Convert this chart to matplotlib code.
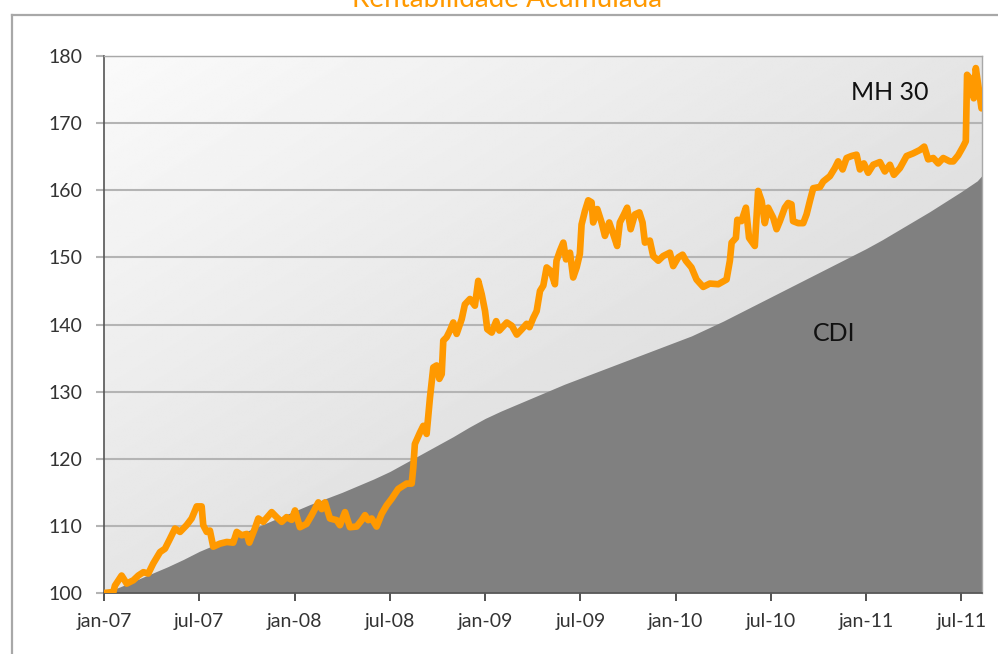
import numpy as np
import matplotlib
matplotlib.use("Agg")
import matplotlib.pyplot as plt
from matplotlib.lines import Line2D

plt.rcParams['font.family'] = ['Lato', 'DejaVu Sans']

# x axis: months since jan-07
tick_months = [0, 6, 12, 18, 24, 30, 36, 42, 48, 54]
tick_labels = ['jan-07', 'jul-07', 'jan-08', 'jul-08', 'jan-09',
               'jul-09', 'jan-10', 'jul-10', 'jan-11', 'jul-11']
y_ticks = [100, 110, 120, 130, 140, 150, 160, 170, 180]

# CDI accumulated (monthly)
cdi_months = list(range(56)) + [55.3]
cdi_values = [100.0, 100.9, 101.9, 102.9, 103.9, 105.0, 106.2, 107.2, 108.2, 109.2,
              110.2, 111.2, 112.2, 113.2, 114.1, 115.0, 116.0, 117.0, 118.1, 119.4,
              120.7, 122.0, 123.3, 124.7, 126.0, 127.1, 128.1, 129.1, 130.1, 131.1,
              132.0, 132.9, 133.8, 134.7, 135.6, 136.5, 137.4, 138.3, 139.4, 140.5,
              141.7, 142.9, 144.1, 145.3, 146.5, 147.7, 148.9, 150.1, 151.3, 152.6,
              154.0, 155.4, 156.8, 158.3, 159.8, 161.4, 162.2]

# MH 30 accumulated return
mh_months = [0, 0.59, 0.69, 1.11, 1.43, 1.85, 2.16, 2.48, 2.79, 3.10,
             3.53, 3.84, 4.16, 4.47, 4.79, 5.20, 5.52, 5.84, 6.15, 6.25,
             6.47, 6.67, 6.88, 7.30, 7.73, 8.14, 8.36, 8.67, 8.99, 9.15,
             9.50, 9.72, 10.03, 10.56, 10.87, 11.19, 11.50, 11.82, 12.03, 12.34,
             12.76, 13.08, 13.50, 13.71, 13.92, 14.23, 14.65, 14.86, 15.18, 15.49,
             15.91, 16.23, 16.44, 16.64, 16.86, 17.17, 17.49, 17.80, 18.12, 18.53,
             19.06, 19.38,
             19.48, 19.58, 19.90, 20.11, 20.32, 20.53, 20.74, 20.95, 21.12, 21.27,
             21.37, 21.58, 21.79, 22.00, 22.21, 22.53, 22.73, 23.05, 23.36, 23.57,
             23.79, 24.00, 24.14, 24.42, 24.70, 24.90, 25.37, 25.69, 26.00, 26.32,
             26.62, 26.80, 27.04, 27.25, 27.46, 27.67, 27.88, 28.13, 28.40, 28.50,
             28.72, 28.93, 29.10, 29.35, 29.55, 29.77, 29.97, 30.08, 30.29, 30.50,
             30.71, 30.81, 31.07, 31.34, 31.55, 31.82, 32.07, 32.32, 32.49, 32.75,
             32.95, 33.17, 33.44, 33.72, 33.92, 34.07, 34.38, 34.59, 34.91, 35.22,
             35.64, 35.85, 36.17, 36.44, 36.65,
             37.00, 37.32, 37.74, 38.16, 38.69, 39.21, 39.42, 39.53, 39.80, 39.89,
             40.15, 40.43, 40.63, 40.99, 41.20, 41.42, 41.62, 41.83, 42.15, 42.36,
             42.57, 42.88, 43.09, 43.30, 43.40, 43.72, 44.04, 44.25, 44.46, 44.67,
             45.10, 45.30, 45.72, 46.03, 46.24, 46.52, 46.77, 47.08, 47.40, 47.61,
             47.86, 48.13, 48.45, 48.87, 49.18, 49.50, 49.75, 50.13, 50.55, 50.97,
             51.39, 51.66, 51.91, 52.23, 52.54, 52.86, 53.27, 53.49, 53.80, 54.11,
             54.28, 54.36, 54.64, 54.78, 54.91, 55.06, 55.27]
mh_values = [100.0, 100.15, 101.1, 102.6, 101.4, 101.9, 102.6, 103.1, 102.9, 104.4,
             106.1, 106.6, 108.1, 109.6, 109.1, 110.1, 111.1, 112.9, 112.9, 110.1,
             109.1, 109.3, 106.9, 107.35, 107.6, 107.5, 109.1, 108.6, 108.8, 107.5,
             109.6, 111.1, 110.6, 112.05, 111.3, 110.6, 111.3, 110.9, 112.3, 109.8,
             110.3, 111.6, 113.5, 112.5, 113.5, 111.1, 110.85, 110.1, 112.05, 109.8,
             109.9, 110.85, 111.6, 110.85, 111.1, 109.9, 111.8, 113.05, 114.05, 115.5,
             116.3, 116.3,
             118.7, 122.2, 123.9, 124.9, 123.7, 129.1, 133.6, 133.9, 131.9, 132.6,
             137.6, 138.1, 139.1, 140.3, 138.6, 140.8, 143.0, 143.8, 142.8, 146.5,
             144.5, 142.0, 139.3, 138.8, 140.5, 139.1, 140.3, 139.8, 138.5, 139.3,
             140.1, 139.6, 141.0, 142.0, 145.0, 145.8, 148.5, 148.0, 146.0, 149.5,
             151.0, 152.2, 149.7, 150.7, 147.0, 148.5, 150.5, 154.9, 156.9, 158.5,
             158.2, 155.2, 157.2, 155.2, 153.2, 155.2, 153.5, 151.7, 155.2, 156.4,
             157.4, 154.2, 156.4, 156.7, 155.2, 152.2, 152.5, 150.2, 149.5, 150.2,
             150.7, 148.7, 150.0, 150.4, 149.5,
             148.5, 146.7, 145.6, 146.1, 146.0, 146.7, 149.5, 152.2, 152.9, 155.6,
             155.4, 157.4, 152.9, 151.7, 159.9, 158.4, 155.1, 157.4, 155.9, 154.2,
             155.4, 157.4, 158.1, 157.9, 155.4, 155.1, 155.1, 156.4, 158.4, 160.3,
             160.5, 161.3, 162.1, 163.3, 164.3, 163.1, 164.8, 165.1, 165.3, 163.1,
             164.0, 162.6, 163.8, 164.2, 162.8, 163.8, 162.3, 163.3, 165.1, 165.5,
             166.0, 166.5, 164.6, 164.8, 164.0, 164.8, 164.3, 164.3, 165.2, 166.5,
             167.3, 177.2, 176.4, 173.7, 178.2, 175.7, 172.2]

W, H = 998, 654
fig = plt.figure(figsize=(W / 100, H / 100), dpi=100)
ax = fig.add_axes([104 / W, 1 - 593 / H, (982 - 104) / W, (593 - 56) / H])

# diagonal gradient background (light top-left, darker bottom-right)
gx, gy = np.meshgrid(np.linspace(0, 1, 300), np.linspace(0, 1, 300))
grad = 250 - 42 * (gx + gy) / 2
ax.imshow(grad, cmap='gray', vmin=0, vmax=255, extent=[0, 1, 0, 1],
          transform=ax.transAxes, aspect='auto', origin='upper', zorder=0,
          interpolation='bilinear')

ax.fill_between(cdi_months, 100, cdi_values, color='#808080', lw=0, zorder=1)
ax.plot(mh_months, mh_values, color='#FF9900', lw=4.8, solid_joinstyle='round',
        solid_capstyle='round', zorder=3)

ax.set_xlim(0, 55.3)
ax.set_ylim(100, 180)
ax.set_xticks(tick_months)
ax.set_xticklabels(tick_labels)
ax.set_yticks(y_ticks)

ax.set_axisbelow(True)
ax.grid(axis='y', color='#b4b4b4', lw=1.5)
ax.tick_params(axis='y', length=5.5, width=1.5, color='#b4b4b4', pad=10,
               labelsize=14, labelcolor='#333333')
ax.tick_params(axis='x', length=5.5, width=1.2, color='#333333', pad=9,
               labelsize=14, labelcolor='#333333')
for side in ['left', 'bottom']:
    ax.spines[side].set_color('#555555')
    ax.spines[side].set_linewidth(1.2)
for side in ['top', 'right']:
    ax.spines[side].set_color('#a8a8a8')
    ax.spines[side].set_linewidth(1.0)

ax.text(49.5, 174.5, 'MH 30', fontsize=18, color='#111111', ha='center', va='center', zorder=4)
ax.text(46.0, 138.7, 'CDI', fontsize=18, color='#111111', ha='center', va='center', zorder=4)

# outer chart border and clipped title
fig.add_artist(Line2D([12 / W, 12 / W], [0, 1 - 15 / H], color='#a8a8a8', lw=1.6))
fig.add_artist(Line2D([12 / W, 1], [1 - 15 / H, 1 - 15 / H], color='#a8a8a8', lw=1.6))
fig.text(507 / W, 1 - 7 / H, 'Rentabilidade Acumulada', fontsize=20, color='#FF9900',
         ha='center', va='baseline')

fig.savefig('out.png', dpi=100)
